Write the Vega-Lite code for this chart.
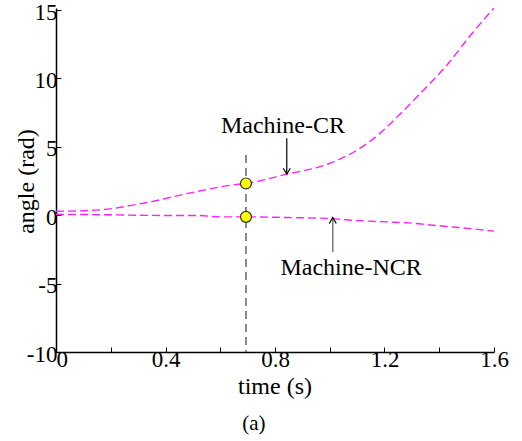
{
  "$schema": "https://vega.github.io/schema/vega-lite/v6.json",
  "width": 438,
  "height": 344,
  "autosize": "none",
  "padding": {"left": 56, "top": 8, "right": 28, "bottom": 89},
  "config": {
    "view": {"stroke": null},
    "font": "Liberation Serif",
    "axis": {"grid": false, "domainColor": "#000", "domainWidth": 1.5, "tickColor": "#000", "tickWidth": 1, "labelColor": "#000", "titleColor": "#000", "labelFont": "Liberation Serif", "titleFont": "Liberation Serif", "titleFontWeight": "normal"}
  },
  "datasets": {
    "curves": [
      {"series": "Machine-CR", "t": 0.0, "v": 0.29},
      {"series": "Machine-CR", "t": 0.1, "v": 0.33},
      {"series": "Machine-CR", "t": 0.197, "v": 0.46},
      {"series": "Machine-CR", "t": 0.27, "v": 0.7},
      {"series": "Machine-CR", "t": 0.343, "v": 0.97},
      {"series": "Machine-CR", "t": 0.49, "v": 1.63},
      {"series": "Machine-CR", "t": 0.66, "v": 2.25},
      {"series": "Machine-CR", "t": 0.694, "v": 2.32},
      {"series": "Machine-CR", "t": 0.843, "v": 3.0},
      {"series": "Machine-CR", "t": 0.964, "v": 3.55},
      {"series": "Machine-CR", "t": 1.037, "v": 4.1},
      {"series": "Machine-CR", "t": 1.111, "v": 4.9},
      {"series": "Machine-CR", "t": 1.184, "v": 6.0},
      {"series": "Machine-CR", "t": 1.257, "v": 7.4},
      {"series": "Machine-CR", "t": 1.342, "v": 9.14},
      {"series": "Machine-CR", "t": 1.427, "v": 10.95},
      {"series": "Machine-CR", "t": 1.512, "v": 13.1},
      {"series": "Machine-CR", "t": 1.6, "v": 15.15},
      {"series": "Machine-NCR", "t": 0.0, "v": 0.07},
      {"series": "Machine-NCR", "t": 0.2, "v": 0.03},
      {"series": "Machine-NCR", "t": 0.4, "v": -0.02},
      {"series": "Machine-NCR", "t": 0.514, "v": -0.02},
      {"series": "Machine-NCR", "t": 0.6, "v": -0.12},
      {"series": "Machine-NCR", "t": 0.694, "v": -0.12},
      {"series": "Machine-NCR", "t": 0.85, "v": -0.17},
      {"series": "Machine-NCR", "t": 1.0, "v": -0.24},
      {"series": "Machine-NCR", "t": 1.086, "v": -0.37},
      {"series": "Machine-NCR", "t": 1.208, "v": -0.49},
      {"series": "Machine-NCR", "t": 1.29, "v": -0.56},
      {"series": "Machine-NCR", "t": 1.377, "v": -0.73},
      {"series": "Machine-NCR", "t": 1.46, "v": -0.88},
      {"series": "Machine-NCR", "t": 1.547, "v": -1.05},
      {"series": "Machine-NCR", "t": 1.6, "v": -1.17}
    ],
    "marker": [{"t": 0.694, "v": 4.4, "v2": -10}],
    "dots": [{"t": 0.694, "v": 2.32}, {"t": 0.694, "v": -0.12}],
    "arrowCR": [{"t": 0.843, "v": 5.63, "v2": 3.0}],
    "arrowNCR": [{"t": 1.011, "v": -2.7, "v2": -0.17}],
    "labels": [
      {"t": 0.829, "v": 6.0, "text": "Machine-CR"},
      {"t": 1.078, "v": -4.39, "text": "Machine-NCR"}
    ],
    "caption": [{"t": 0.723, "v": -15.73, "text": "(a)"}]
  },
  "layer": [
    {
      "data": {"name": "curves"},
      "mark": {"type": "line", "color": "#ff22ff", "strokeWidth": 1.4, "strokeDash": [8, 4], "interpolate": "monotone", "clip": true},
      "encoding": {
        "x": {"field": "t", "type": "quantitative", "scale": {"domain": [0, 1.6], "nice": false, "zero": false},
          "axis": {"title": "time (s)", "titleFontSize": 24, "titleX": 218.5, "titleY": 41, "titleBaseline": "alphabetic", "titleAnchor": null, "titleAlign": "center",
            "values": [0, 0.2, 0.4, 0.6, 0.8, 1.0, 1.2, 1.4, 1.6],
            "labelExpr": "round(datum.value*10)%4==0 ? (datum.value==0 ? '0' : format(datum.value,'.1f')) : ''",
            "labelFontSize": 23, "labelPadding": 1, "tickSize": -5, "labelFlush": false,
            "labelAlign": {"condition": {"test": "datum.value == 0", "value": "left"}, "value": "center"}}},
        "y": {"field": "v", "type": "quantitative", "scale": {"domain": [-10, 15.15], "nice": false, "zero": false},
          "axis": {"title": "angle (rad)", "titleFontSize": 24, "titleX": -23, "titleY": 173, "titleBaseline": "alphabetic", "titleAlign": "center", "titleAngle": -90,
            "values": [-10, -5, 0, 5, 10, 15],
            "labelExpr": "datum.value < 0 ? '-' + abs(datum.value) : '' + datum.value",
            "labelFontSize": 23, "labelPadding": 4, "tickSize": -5, "labelBaseline": "middle", "labelOffset": 2, "labelFlush": false}},
        "detail": {"field": "series"}
      }
    },
    {
      "data": {"name": "marker"},
      "mark": {"type": "rule", "color": "#666666", "strokeWidth": 1.5, "strokeDash": [8, 5]},
      "encoding": {
        "x": {"field": "t", "type": "quantitative"},
        "y": {"field": "v", "type": "quantitative"},
        "y2": {"field": "v2"}
      }
    },
    {
      "data": {"name": "dots"},
      "mark": {"type": "point", "shape": "circle", "filled": true, "fill": "#ffff00", "stroke": "#333333", "strokeWidth": 1.2, "size": 120, "opacity": 1},
      "encoding": {
        "x": {"field": "t", "type": "quantitative"},
        "y": {"field": "v", "type": "quantitative"}
      }
    },
    {
      "data": {"name": "arrowCR"},
      "mark": {"type": "rule", "color": "#000000", "strokeWidth": 1.2},
      "encoding": {
        "x": {"field": "t", "type": "quantitative"},
        "y": {"field": "v", "type": "quantitative"},
        "y2": {"field": "v2"}
      }
    },
    {
      "data": {"name": "arrowCR"},
      "mark": {"type": "point", "shape": "M -1 -1.7 L 0 0 L 1 -1.7", "filled": false, "stroke": "#000000", "strokeWidth": 1.2, "size": 49, "opacity": 1},
      "encoding": {
        "x": {"field": "t", "type": "quantitative"},
        "y": {"field": "v2", "type": "quantitative"}
      }
    },
    {
      "data": {"name": "arrowNCR"},
      "mark": {"type": "rule", "color": "#777777", "strokeWidth": 1.5},
      "encoding": {
        "x": {"field": "t", "type": "quantitative"},
        "y": {"field": "v", "type": "quantitative"},
        "y2": {"field": "v2"}
      }
    },
    {
      "data": {"name": "arrowNCR"},
      "mark": {"type": "point", "shape": "M -1 1.7 L 0 0 L 1 1.7", "filled": false, "stroke": "#000000", "strokeWidth": 1.2, "size": 49, "opacity": 1},
      "encoding": {
        "x": {"field": "t", "type": "quantitative"},
        "y": {"field": "v2", "type": "quantitative"}
      }
    },
    {
      "data": {"name": "labels"},
      "mark": {"type": "text", "font": "Liberation Serif", "fontSize": 24, "align": "center", "baseline": "alphabetic", "color": "#000000"},
      "encoding": {
        "x": {"field": "t", "type": "quantitative"},
        "y": {"field": "v", "type": "quantitative"},
        "text": {"field": "text"}
      }
    },
    {
      "data": {"name": "caption"},
      "mark": {"type": "text", "font": "Liberation Serif", "fontSize": 21, "align": "center", "baseline": "alphabetic", "color": "#000000", "clip": false},
      "encoding": {
        "x": {"field": "t", "type": "quantitative"},
        "y": {"field": "v", "type": "quantitative"},
        "text": {"field": "text"}
      }
    }
  ]
}
